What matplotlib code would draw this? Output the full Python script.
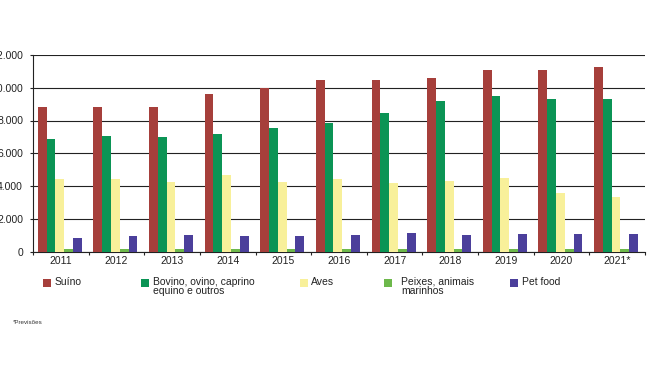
import matplotlib
matplotlib.use("Agg")
import matplotlib.pyplot as plt
import numpy as np
from matplotlib.patches import Rectangle
from matplotlib.ticker import FuncFormatter, FixedLocator

plt.rcParams['font.family'] = ['Liberation Sans', 'DejaVu Sans']

years = ["2011", "2012", "2013", "2014", "2015", "2016", "2017", "2018", "2019", "2020", "2021*"]
suino = [8800, 8800, 8800, 9600, 10000, 10470, 10470, 10600, 11060, 11060, 11260]
bovino = [6840, 7080, 7000, 7160, 7530, 7820, 8470, 9180, 9510, 9310, 9310]
aves = [4430, 4430, 4220, 4650, 4220, 4450, 4160, 4310, 4510, 3590, 3330]
peixes = [130, 130, 130, 130, 130, 130, 130, 130, 130, 130, 130]
petfood = [840, 920, 980, 920, 920, 980, 1100, 980, 1040, 1040, 1040]

series = [
    ("Suíno", suino, "#A63F3B"),
    ("Bovino, ovino, caprino\nequino e outros", bovino, "#0B9455"),
    ("Aves", aves, "#F8F09A"),
    ("Peixes, animais\nmarinhos", peixes, "#6DB84B"),
    ("Pet food", petfood, "#4B3F9B"),
]

W, H = 650, 366
PX = 0.72  # points per pixel at dpi 100
fig = plt.figure(figsize=(W / 100, H / 100), dpi=100)
ax = fig.add_axes([33 / W, (H - 251.5) / H, (645 - 33) / W, (251.5 - 55) / H])

x = np.arange(len(years))
bw = 0.158
center_shift = -0.02
for i, (name, vals, col) in enumerate(series):
    ax.bar(x + center_shift + (i - 2) * bw, vals, width=bw, color=col, linewidth=0, zorder=3)

ax.set_xlim(-0.5, len(years) - 0.5)
ax.set_ylim(0, 12000)
ax.set_yticks(np.arange(0, 12001, 2000))
ax.yaxis.set_major_formatter(FuncFormatter(lambda v, p: f"{int(v):,}".replace(",", ".")))
ax.grid(axis='y', color='#222222', linewidth=0.8, zorder=1)
ax.set_axisbelow(True)

ax.set_xticks(x)
ax.set_xticklabels(years)
ax.xaxis.set_minor_locator(FixedLocator(np.arange(-0.5, len(years), 1.0)))
ax.tick_params(axis='x', which='major', length=0, labelsize=7.5, pad=4 * PX, colors='#222222')
ax.tick_params(axis='x', which='minor', length=3 * PX, width=0.8, direction='out', color='#222222')
ax.tick_params(axis='y', which='major', length=3 * PX, width=0.8, labelsize=7.5, pad=7 * PX,
               colors='#222222')

for s in ['top', 'right']:
    ax.spines[s].set_visible(False)
for s in ['left', 'bottom']:
    ax.spines[s].set_color('#222222')
    ax.spines[s].set_linewidth(0.8)

# legend
sq_x = [43, 141, 300, 384, 510]
tx_x = [55, 153, 311, 401, 522]
for (name, vals, col), sx, tx in zip(series, sq_x, tx_x):
    fig.patches.append(Rectangle((sx / W, (H - 286.5) / H), 8 / W, 8 / H,
                                 transform=fig.transFigure, facecolor=col, edgecolor='none'))
    fig.text(tx / W, (H - 277) / H, name, fontsize=7.5, va='top', ha='left',
             linespacing=0.9, color='#222222')

fig.text(13 / W, (H - 322) / H, "*Previsões", fontsize=4.5, va='center', ha='left', color='#333333')

fig.savefig("out.png", dpi=100)
